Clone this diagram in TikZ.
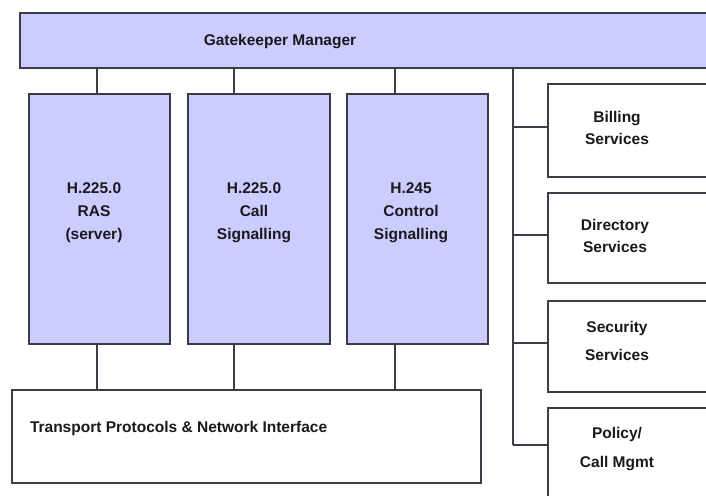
\documentclass[tikz,border=0pt]{standalone}
\usepackage{fontspec}
\setmainfont{Liberation Sans}
\usepackage{tikz}
\usetikzlibrary{positioning}

\definecolor{gklavender}{RGB}{204,204,255}
\definecolor{gkline}{RGB}{60,60,70}
\definecolor{gktext}{RGB}{25,25,30}

\begin{document}
\begin{tikzpicture}[x=1pt,y=-1pt,
    every node/.style = {inner sep=0pt, outer sep=0pt},
    unitbox/.style    = {draw=gkline, line width=1.2pt, rectangle,
      anchor=north west},
    lavbox/.style     = {unitbox, fill=gklavender},
    whitebox/.style   = {unitbox, fill=white},
    boxtext/.style    = {font=\fontsize{15.5}{19}\selectfont\bfseries,
      text=gktext, align=center},
    link/.style       = {draw=gkline, line width=1.2pt},
  ]
  \useasboundingbox (0,0) rectangle (706,495);
  \clip (0,0) rectangle (706,495);

  % manager bar
  \node[lavbox, minimum width=710pt, minimum height=55pt] (gk) at (20,13) {};
  \node[boxtext] (gklabel) at (280,42) {Gatekeeper Manager};

  % protocol units
  \node[lavbox, minimum width=141pt, minimum height=250pt] (ras)  at (29,94) {};
  \node[lavbox, minimum width=142pt, minimum height=250pt] (call) at (188,94) {};
  \node[lavbox, minimum width=141pt, minimum height=250pt] (ctrl) at (347,94) {};
  \node[boxtext] (raslabel)  at (94,213)  {H.225.0\\[4pt]RAS\\[4pt](server)};
  \node[boxtext] (calllabel) at (254,213) {H.225.0\\[4pt]Call\\[4pt]Signalling};
  \node[boxtext] (ctrllabel) at (411,213) {H.245\\[4pt]Control\\[4pt]Signalling};

  % transport
  \node[whitebox, minimum width=469pt, minimum height=93pt] (trans) at (12,390) {};
  \node[boxtext, anchor=west] (translabel) at (30,428)
    {Transport Protocols \& Network Interface};

  % services
  \node[whitebox, minimum width=200pt, minimum height=93pt]  (bill) at (548,84) {};
  \node[whitebox, minimum width=200pt, minimum height=90pt]  (dir)  at (548,193) {};
  \node[whitebox, minimum width=200pt, minimum height=91pt]  (sec)  at (548,301) {};
  \node[whitebox, minimum width=200pt, minimum height=120pt] (pol)  at (548,408) {};
  \node[boxtext] (billlabel) at (617,128)   {Billing\\[3pt]Services};
  \node[boxtext] (dirlabel)  at (615,236)   {Directory\\[3pt]Services};
  \node[boxtext] (seclabel)  at (617,341)   {Security\\[9pt]Services};
  \node[boxtext] (pollabel)  at (617,449.5) {Policy/\\[10pt]Call Mgmt};

  % links to manager and transport
  \foreach \n/\dx in {ras/-2.5, call/-25, ctrl/-22.5} {
    \draw[link] ([xshift=\dx pt]\n.north) -- ([xshift=\dx pt]\n.north |- gk.south);
    \draw[link] ([xshift=\dx pt]\n.south) -- ([xshift=\dx pt]\n.south |- trans.north);
  }

  % service bus
  \coordinate (busend) at (513,445);
  \draw[link] (busend |- gk.south) -- (busend);
  \foreach \n/\dy in {bill/3.5, dir/3, sec/3.5, pol/23} {
    \draw[link] ([yshift=\dy pt]\n.west) -- ([yshift=\dy pt]\n.west -| busend);
  }
\end{tikzpicture}
\end{document}
